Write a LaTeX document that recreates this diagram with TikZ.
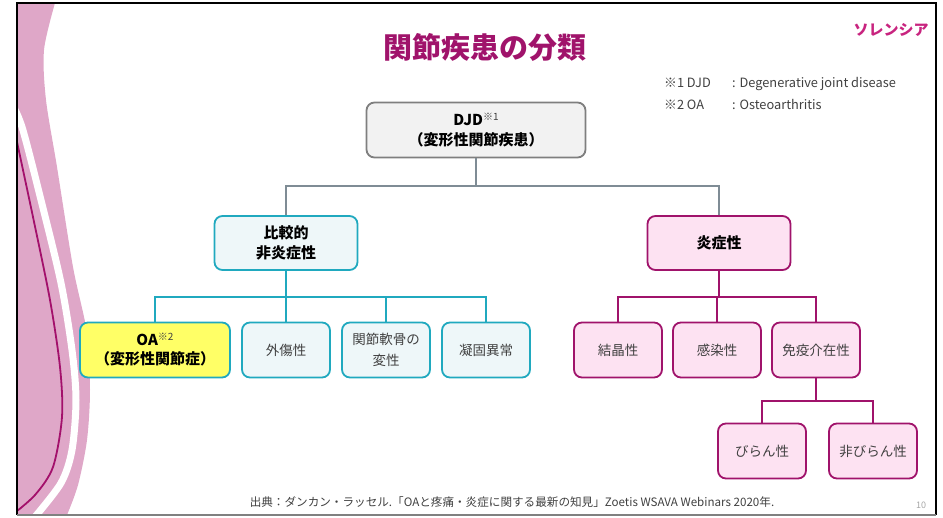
\documentclass[tikz,border=0pt]{standalone}
\usepackage{fontspec}
\setmainfont{Noto Sans CJK JP}
\usepackage{tikz}
\usetikzlibrary{calc}
\definecolor{plum}{HTML}{A0136B}
\definecolor{logopink}{HTML}{C8247F}
\definecolor{bandpink}{HTML}{DFA7C8}
\definecolor{linemag}{HTML}{A3106B}
\definecolor{teal}{HTML}{20A9BF}
\definecolor{lcyan}{HTML}{EEF7F9}
\definecolor{lpink}{HTML}{FDE2F2}
\definecolor{oayel}{HTML}{FFFF66}
\definecolor{boxgray}{HTML}{7F7F7F}
\definecolor{congray}{HTML}{7F8C95}
\definecolor{txt}{HTML}{404040}
\tikzset{
  base/.style={rounded corners=8pt,line width=1.8pt,align=center,inner sep=2pt},
  top/.style={base,draw=boxgray,fill=gray!10,minimum width=219pt,minimum height=55pt,
    font=\fontsize{15}{20}\selectfont\bfseries},                          % root
  cyanhd/.style={base,draw=teal,fill=lcyan,minimum width=143pt,minimum height=54pt,
    font=\fontsize{15}{20}\selectfont\bfseries},                          % group head
  pinkhd/.style={cyanhd,draw=plum,fill=lpink},
  cyanbx/.style={base,draw=teal,fill=lcyan,minimum width=88pt,minimum height=55pt,
    text=txt,font=\fontsize{13.5}{21}\selectfont},                        % leaf
  pinkbx/.style={cyanbx,draw=plum,fill=lpink},
  oabx/.style={cyanbx,fill=oayel,minimum width=150pt,text=black,
    font=\fontsize{15}{19}\selectfont\bfseries},
  gcon/.style={congray,line width=1.8pt},
  ccon/.style={teal,line width=1.8pt},
  pcon/.style={plum,line width=1.8pt},
}
\newcommand\refmk[1]{\raisebox{5pt}{\fontsize{10}{10}\selectfont\mdseries\color{txt}#1}}

\begin{document}
\begin{tikzpicture}[x=1pt,y=-1pt]
  \useasboundingbox (0,0) rectangle (943,518);
  % side ribbon
  \begin{scope}
    \clip (17,3) rectangle (936,515);
    \fill[bandpink] (17,3) -- plot[smooth] coordinates {(55,3) (44,50) (46,100) (57,167)
      (73,267) (87,333) (90,390) (87,440) (78,485) (67,515)} -- (17,515) -- cycle;
    \draw[white,line width=7pt] plot[smooth] coordinates {(10,100) (22,127) (41,200)
      (61,283) (72,350) (76,400) (72,450) (61,483) (34,518)};
    \draw[linemag,line width=1.8pt] plot[smooth] coordinates {(14,128) (33,217) (50,300)
      (60,367) (62,417) (53,467) (35,495) (12,515)};
  \end{scope}
  % frame
  \draw[black,line width=2pt] (17,515) -- (17,3) -- (936,3) -- (936,515);
  \draw[gray,line width=1.5pt] (17,515) -- (936,515);

  % heading, logo, notes
  \node[plum,font=\fontsize{29}{30}\selectfont\bfseries] (title) at (485,47) {関節疾患の分類};
  \node[logopink,font=\fontsize{15}{15}\selectfont\bfseries] (logo) at (891,30) {ソレンシア};
  \node[anchor=west,text=txt,font=\fontsize{12.8}{14}\selectfont,inner sep=0] (note1) at (664,84)
    {\makebox[68pt][l]{※1 DJD}: Degenerative joint disease};
  \node[anchor=west,text=txt,font=\fontsize{12.8}{14}\selectfont,inner sep=0] (note2) at (664,104)
    {\makebox[68pt][l]{※2 OA}: Osteoarthritis};

  % tree
  \node[top] (djd) at (476,130) {DJD\refmk{※1}\\（変形性関節疾患）};
  \node[cyanhd] (nonin) at (286,243) {比較的\\非炎症性};
  \node[pinkhd] (infl) at (719,243) {炎症性};

  \node[oabx] (oa) at (155,350) {OA\refmk{※2}\\（変形性関節症）};
  \node[cyanbx] (trauma) at (286,350) {外傷性};
  \node[cyanbx] (cart) at (386,350) {関節軟骨の\\変性};
  \node[cyanbx] (coag) at (486,350) {凝固異常};

  \node[pinkbx] (crys) at (618,350) {結晶性};
  \node[pinkbx] (infect) at (717,350) {感染性};
  \node[pinkbx] (immune) at (816,350) {免疫介在性};

  \node[pinkbx] (eros) at (762,451) {びらん性};
  \node[pinkbx] (noneros) at (873,451) {非びらん性};

  % branches
  \foreach \n in {nonin,infl} \draw[gcon] (djd.south) -- ++(0,28) -| (\n.north);
  \foreach \n in {oa,trauma,cart,coag} \draw[ccon] (nonin.south) -- ++(0,26) -| (\n.north);
  \foreach \n in {crys,infect,immune} \draw[pcon] (infl.south) -- ++(0,26) -| (\n.north);
  \foreach \n in {eros,noneros} \draw[pcon] (immune.south) -- ++(0,23) -| (\n.north);

  % source line
  \node[text=txt,font=\fontsize{11.6}{13}\selectfont] (src) at (512,502)
    {出典：ダンカン・ラッセル.「OAと疼痛・炎症に関する最新の知見」Zoetis WSAVA Webinars 2020年.};
  \node[gray!70,font=\fontsize{9}{10}\selectfont] (pg) at (921,505) {10};
\end{tikzpicture}
\end{document}
